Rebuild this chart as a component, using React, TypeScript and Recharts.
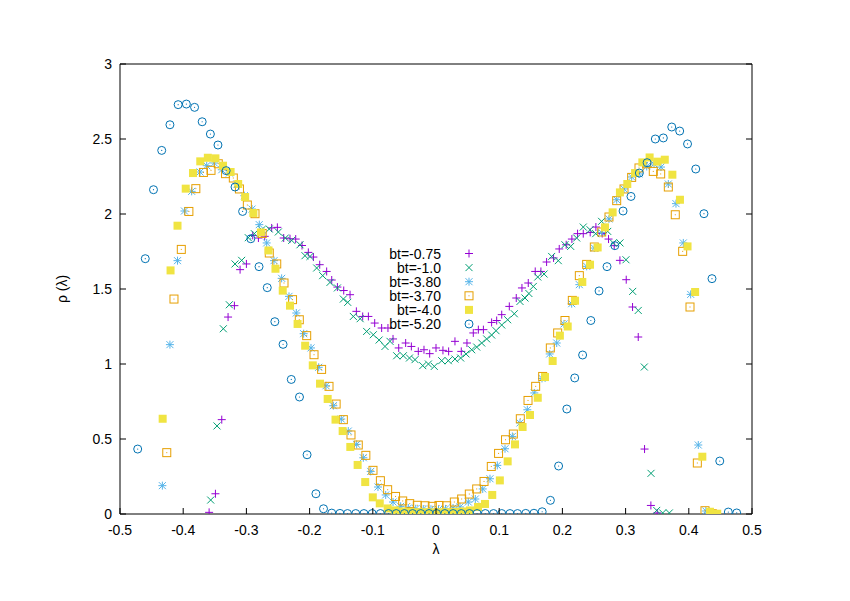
import React from "react";
import { ScatterChart, Scatter, XAxis, YAxis, Legend, Label } from "recharts";

const xTicks = [-0.5, -0.4, -0.3, -0.2, -0.1, 0, 0.1, 0.2, 0.3, 0.4, 0.5];
const yTicks = [0, 0.5, 1, 1.5, 2, 2.5, 3];

// [lambda, rho]
const bt075: [number, number][] = [
  [-0.359, 0.011], [-0.349, 0.135], [-0.339, 0.629], [-0.329, 1.313], [-0.319, 1.389], [-0.31, 1.629],
  [-0.3, 1.667], [-0.29, 1.857], [-0.281, 1.84], [-0.271, 1.851], [-0.26, 1.907], [-0.251, 1.911],
  [-0.241, 1.84], [-0.231, 1.835], [-0.222, 1.833], [-0.212, 1.79], [-0.202, 1.744], [-0.194, 1.713],
  [-0.184, 1.662], [-0.173, 1.617], [-0.165, 1.56], [-0.156, 1.513], [-0.146, 1.49], [-0.136, 1.462],
  [-0.126, 1.351], [-0.116, 1.317], [-0.107, 1.317], [-0.097, 1.273], [-0.086, 1.24], [-0.076, 1.24],
  [-0.068, 1.167], [-0.059, 1.107], [-0.048, 1.14], [-0.039, 1.117], [-0.028, 1.084], [-0.019, 1.095],
  [-0.01, 1.069], [0.0, 1.107], [0.011, 1.091], [0.02, 1.084], [0.03, 1.151], [0.04, 1.084],
  [0.049, 1.14], [0.059, 1.207], [0.067, 1.229], [0.075, 1.229], [0.088, 1.277], [0.096, 1.29],
  [0.104, 1.329], [0.116, 1.384], [0.127, 1.44], [0.136, 1.507], [0.146, 1.54], [0.157, 1.617],
  [0.166, 1.617], [0.175, 1.68], [0.186, 1.707], [0.195, 1.767], [0.206, 1.795], [0.215, 1.833],
  [0.224, 1.869], [0.233, 1.869], [0.244, 1.877], [0.253, 1.913], [0.263, 1.87], [0.273, 1.833],
  [0.282, 1.789], [0.291, 1.691], [0.301, 1.562], [0.311, 1.38], [0.32, 1.18], [0.33, 0.433],
  [0.34, 0.057], [0.35, 0.007],
];

const bt10: [number, number][] = [
  [-0.3565, 0.093], [-0.3465, 0.587], [-0.3365, 1.235], [-0.327, 1.395], [-0.318, 1.667], [-0.3075, 1.691],
  [-0.297, 1.842], [-0.2875, 1.869], [-0.2758, 1.895], [-0.2638, 1.9], [-0.2495, 1.88], [-0.2384, 1.84],
  [-0.2283, 1.824], [-0.2152, 1.795], [-0.2073, 1.722], [-0.1994, 1.717], [-0.1888, 1.64], [-0.1793, 1.589],
  [-0.1677, 1.544], [-0.156, 1.507], [-0.1466, 1.433], [-0.1397, 1.411], [-0.1308, 1.317], [-0.12, 1.302],
  [-0.1097, 1.217], [-0.0992, 1.195], [-0.09, 1.16], [-0.0807, 1.117], [-0.0728, 1.151], [-0.0622, 1.055],
  [-0.0517, 1.055], [-0.042, 1.04], [-0.0332, 1.029], [-0.021, 0.989], [-0.012, 1.0], [-0.0027, 0.984],
  [0.009, 1.022], [0.0195, 1.022], [0.03, 1.033], [0.039, 1.04], [0.0475, 1.067], [0.0565, 1.095],
  [0.0644, 1.113], [0.0723, 1.14], [0.0802, 1.167], [0.0881, 1.193], [0.095, 1.222], [0.104, 1.26],
  [0.1134, 1.295], [0.1239, 1.335], [0.1329, 1.417], [0.1408, 1.44], [0.147, 1.47], [0.154, 1.517],
  [0.161, 1.58], [0.171, 1.6], [0.183, 1.717], [0.1935, 1.689], [0.204, 1.795], [0.2131, 1.784],
  [0.2226, 1.84], [0.233, 1.913], [0.2437, 1.895], [0.2527, 1.869], [0.262, 1.951], [0.2717, 1.884],
  [0.2805, 1.807], [0.2911, 1.807], [0.3006, 1.695], [0.3112, 1.484], [0.32, 1.357], [0.3296, 0.98],
  [0.3402, 0.271], [0.3492, 0.024], [0.3587, 0.007], [0.3692, 0.007],
];

const bt380: [number, number][] = [
  [-0.433, 0.189], [-0.421, 1.129], [-0.409, 1.689], [-0.398, 2.02], [-0.3866, 2.151], [-0.3734, 2.28],
  [-0.3628, 2.322], [-0.3508, 2.34], [-0.339, 2.295], [-0.327, 2.273], [-0.315, 2.2], [-0.3033, 2.122],
  [-0.2911, 2.033], [-0.2796, 1.929], [-0.2679, 1.807], [-0.2563, 1.689], [-0.2442, 1.571], [-0.2326, 1.451],
  [-0.221, 1.34], [-0.2094, 1.202], [-0.1978, 1.107], [-0.1856, 0.978], [-0.174, 0.855], [-0.1625, 0.722],
  [-0.1499, 0.633], [-0.1388, 0.553], [-0.1255, 0.464], [-0.115, 0.375], [-0.1033, 0.284], [-0.0918, 0.18],
  [-0.0796, 0.127], [-0.068, 0.08], [-0.0559, 0.051], [-0.0438, 0.04], [-0.0321, 0.035], [-0.0201, 0.033],
  [-0.008, 0.032], [0.004, 0.03], [0.015, 0.034], [0.027, 0.04], [0.038, 0.047], [0.0511, 0.08],
  [0.0622, 0.1], [0.0739, 0.167], [0.0854, 0.235], [0.097, 0.324], [0.1092, 0.435], [0.1208, 0.517],
  [0.1329, 0.607], [0.1445, 0.695], [0.1556, 0.807], [0.1677, 0.904], [0.1799, 1.067], [0.191, 1.14],
  [0.2025, 1.267], [0.2147, 1.402], [0.2268, 1.529], [0.2384, 1.651], [0.2505, 1.773], [0.262, 1.877],
  [0.2737, 1.967], [0.2859, 2.095], [0.2975, 2.167], [0.3096, 2.247], [0.3212, 2.267], [0.3334, 2.317],
  [0.345, 2.333], [0.356, 2.313], [0.3676, 2.2], [0.3797, 2.069], [0.3913, 1.807], [0.403, 1.464],
  [0.415, 0.46], [0.427, 0.02],
];

const bt370: [number, number][] = [
  [-0.426, 0.409], [-0.4146, 1.433], [-0.403, 1.764], [-0.391, 2.017], [-0.38, 2.169], [-0.368, 2.277],
  [-0.356, 2.291], [-0.3445, 2.335], [-0.333, 2.269], [-0.3207, 2.24], [-0.311, 2.167], [-0.2985, 2.06],
  [-0.2864, 2.002], [-0.275, 1.87], [-0.2638, 1.74], [-0.252, 1.667], [-0.2405, 1.54], [-0.227, 1.429],
  [-0.2163, 1.295], [-0.2046, 1.189], [-0.193, 1.062], [-0.181, 0.964], [-0.1693, 0.851], [-0.158, 0.733],
  [-0.1466, 0.629], [-0.1345, 0.527], [-0.123, 0.46], [-0.111, 0.391], [-0.0997, 0.291], [-0.088, 0.222],
  [-0.0765, 0.162], [-0.064, 0.117], [-0.0527, 0.087], [-0.0416, 0.069], [-0.0296, 0.058], [-0.0174, 0.055],
  [-0.0058, 0.051], [0.0047, 0.057], [0.0169, 0.055], [0.029, 0.08], [0.0406, 0.1], [0.0527, 0.133],
  [0.0644, 0.167], [0.076, 0.217], [0.0875, 0.317], [0.099, 0.404], [0.11, 0.495], [0.1224, 0.533],
  [0.1334, 0.635], [0.1456, 0.757], [0.1577, 0.851], [0.1688, 0.917], [0.1809, 1.107], [0.1925, 1.207],
  [0.2041, 1.29], [0.2157, 1.424], [0.2268, 1.589], [0.2384, 1.664], [0.2505, 1.78], [0.2622, 1.88],
  [0.2737, 1.98], [0.2859, 2.089], [0.2975, 2.167], [0.3096, 2.244], [0.3212, 2.307], [0.3334, 2.335],
  [0.3438, 2.284], [0.3555, 2.267], [0.3676, 2.18], [0.3786, 1.995], [0.3903, 1.751], [0.4019, 1.38],
  [0.4135, 0.34], [0.4256, 0.022], [0.4372, 0.002],
];

const bt40: [number, number][] = [
  [-0.4325, 0.635], [-0.42, 1.624], [-0.409, 1.922], [-0.396, 2.169], [-0.3845, 2.273], [-0.373, 2.351],
  [-0.361, 2.375], [-0.349, 2.371], [-0.337, 2.322], [-0.325, 2.28], [-0.313, 2.2], [-0.302, 2.113],
  [-0.289, 2.007], [-0.277, 1.877], [-0.265, 1.757], [-0.254, 1.635], [-0.2425, 1.489], [-0.231, 1.389],
  [-0.219, 1.267], [-0.207, 1.122], [-0.195, 0.991], [-0.1835, 0.869], [-0.1714, 0.767], [-0.159, 0.629],
  [-0.1477, 0.553], [-0.1356, 0.447], [-0.124, 0.327], [-0.112, 0.213], [-0.1, 0.111], [-0.089, 0.071],
  [-0.0765, 0.037], [-0.065, 0.024], [-0.0527, 0.017], [-0.041, 0.013], [-0.029, 0.012], [-0.017, 0.012],
  [-0.005, 0.011], [0.007, 0.012], [0.019, 0.012], [0.031, 0.014], [0.042, 0.017], [0.0538, 0.024],
  [0.0665, 0.047], [0.0775, 0.067], [0.089, 0.127], [0.101, 0.224], [0.1134, 0.351], [0.125, 0.464],
  [0.137, 0.58], [0.1487, 0.66], [0.161, 0.775], [0.1725, 0.913], [0.1846, 1.02], [0.196, 1.189],
  [0.2084, 1.25], [0.22, 1.422], [0.2315, 1.547], [0.2437, 1.662], [0.2558, 1.777], [0.2674, 1.911],
  [0.2795, 2.011], [0.291, 2.144], [0.3027, 2.2], [0.315, 2.273], [0.3265, 2.344], [0.338, 2.377],
  [0.35, 2.349], [0.362, 2.362], [0.374, 2.262], [0.386, 2.095], [0.398, 1.784], [0.41, 1.48],
  [0.4214, 0.382], [0.4335, 0.015], [0.445, 0.002],
];

const bt520: [number, number][] = [
  [-0.472, 0.433], [-0.46, 1.702], [-0.447, 2.162], [-0.434, 2.424], [-0.421, 2.595], [-0.408, 2.729],
  [-0.395, 2.733], [-0.382, 2.711], [-0.37, 2.615], [-0.357, 2.533], [-0.345, 2.46], [-0.332, 2.289],
  [-0.318, 2.18], [-0.306, 2.017], [-0.293, 1.835], [-0.28, 1.649], [-0.267, 1.509], [-0.255, 1.282],
  [-0.242, 1.131], [-0.229, 0.897], [-0.216, 0.78], [-0.204, 0.395], [-0.19, 0.135], [-0.178, 0.035],
  [-0.165, 0.006], [-0.152, 0.004], [-0.14, 0.003], [-0.127, 0.003], [-0.114, 0.003], [-0.101, 0.003],
  [-0.088, 0.003], [-0.075, 0.003], [-0.063, 0.003], [-0.05, 0.003], [-0.037, 0.003], [-0.024, 0.003],
  [-0.011, 0.003], [0.001, 0.003], [0.014, 0.003], [0.027, 0.003], [0.04, 0.003], [0.053, 0.003],
  [0.065, 0.003], [0.078, 0.003], [0.091, 0.003], [0.104, 0.003], [0.117, 0.003], [0.129, 0.003],
  [0.142, 0.004], [0.155, 0.005], [0.168, 0.015], [0.181, 0.091], [0.194, 0.32], [0.207, 0.7],
  [0.2195, 0.907], [0.232, 1.06], [0.245, 1.29], [0.258, 1.487], [0.2706, 1.649], [0.283, 1.789],
  [0.296, 2.02], [0.3085, 2.117], [0.3217, 2.273], [0.334, 2.342], [0.347, 2.5], [0.3597, 2.507],
  [0.373, 2.58], [0.3856, 2.553], [0.398, 2.467], [0.411, 2.3], [0.424, 2.002], [0.4367, 1.569],
  [0.449, 0.353], [0.4625, 0.013], [0.4758, 0.007],
];

type Kind = "plus" | "cross" | "star" | "box" | "fbox" | "circle";

const series: { name: string; color: string; kind: Kind; rows: [number, number][] }[] = [
  { name: "bt=-0.75", color: "#9400d3", kind: "plus", rows: bt075 },
  { name: "bt=-1.0", color: "#009e73", kind: "cross", rows: bt10 },
  { name: "bt=-3.80", color: "#56b4e9", kind: "star", rows: bt380 },
  { name: "bt=-3.70", color: "#e69f00", kind: "box", rows: bt370 },
  { name: "bt=-4.0", color: "#f0e442", kind: "fbox", rows: bt40 },
  { name: "bt=-5.20", color: "#0072b2", kind: "circle", rows: bt520 },
];

const FONT = "'Liberation Sans', Arial, Helvetica, sans-serif";
const KEY_STEP = 14.1;

function Marker({ kind, color, cx, cy }: { kind: Kind; color: string; cx: number; cy: number }) {
  const s = 4;
  const d = 3.5;
  const plus = (
    <>
      <line x1={cx - s} x2={cx + s} y1={cy} y2={cy} />
      <line x1={cx} x2={cx} y1={cy - s} y2={cy + s} />
    </>
  );
  const cross = (
    <>
      <line x1={cx - d} x2={cx + d} y1={cy - d} y2={cy + d} />
      <line x1={cx - d} x2={cx + d} y1={cy + d} y2={cy - d} />
    </>
  );
  switch (kind) {
    case "plus":
      return <g stroke={color} strokeWidth={1}>{plus}</g>;
    case "cross":
      return <g stroke={color} strokeWidth={1}>{cross}</g>;
    case "star":
      return (
        <g stroke={color} strokeWidth={1}>
          {plus}
          {cross}
        </g>
      );
    case "box":
      return (
        <g>
          <rect x={cx - 4} y={cy - 4} width={8} height={8} fill="none" stroke={color} strokeWidth={1} />
          <rect x={cx - 0.5} y={cy - 0.5} width={1} height={1} fill={color} />
        </g>
      );
    case "fbox":
      return <rect x={cx - 4} y={cy - 4} width={8} height={8} fill={color} />;
    default:
      return (
        <g>
          <circle cx={cx} cy={cy} r={4} fill="none" stroke={color} strokeWidth={1} />
          <circle cx={cx} cy={cy} r={0.6} fill={color} />
        </g>
      );
  }
}

const BottomTick = (p: any) => (
  <g>
    <line x1={p.x} x2={p.x} y1={p.y - 8} y2={p.y - 14} stroke="#000" />
    <text x={p.x} y={p.y + 13} textAnchor="middle" fontFamily={FONT} fontSize={14} fill="#000">
      {String(p.payload.value)}
    </text>
  </g>
);

const LeftTick = (p: any) => (
  <g>
    <line x1={p.x + 8} x2={p.x + 14} y1={p.y} y2={p.y} stroke="#000" />
    <text x={p.x} y={p.y + 5} textAnchor="end" fontFamily={FONT} fontSize={14} fill="#000">
      {String(p.payload.value)}
    </text>
  </g>
);

const TopTick = (p: any) => <line x1={p.x} x2={p.x} y1={p.y} y2={p.y + 6} stroke="#000" />;
const RightTick = (p: any) => <line x1={p.x} x2={p.x - 6} y1={p.y} y2={p.y} stroke="#000" />;

// gnuplot-style key: one text block, right aligned, with the symbol to its right
const renderKey = () => (
  <svg width={120} height={92} style={{ display: "block" }}>
    <text x={71} y={14.5} textAnchor="end" fontFamily={FONT} fontSize={14} fill="#000">
      {series.map((s, i) => (
        <tspan key={s.name} x={71} dy={i === 0 ? 0 : KEY_STEP}>
          {s.name}
        </tspan>
      ))}
    </text>
    {series.map((s, i) => (
      <Marker key={s.name} kind={s.kind} color={s.color} cx={99} cy={9.5 + i * KEY_STEP} />
    ))}
  </svg>
);

export default function App() {
  return (
    <div style={{ position: "absolute", left: 0, top: 0, background: "#fff" }}>
      <ScatterChart width={850} height={601} margin={{ top: 63, right: 97, bottom: 57, left: 60 }}>
        <XAxis
          type="number"
          dataKey="x"
          domain={[-0.5, 0.5]}
          ticks={xTicks}
          allowDataOverflow
          height={30}
          tickSize={0}
          tickMargin={8}
          tickLine={false}
          axisLine={{ stroke: "#000" }}
          tick={BottomTick}
        >
          <Label
            content={(props: any) => {
              const vb = props.viewBox;
              return (
                <text x={vb.x + vb.width / 2} y={vb.y + 40} textAnchor="middle" fontFamily={FONT} fontSize={14} fill="#000">
                  λ
                </text>
              );
            }}
          />
        </XAxis>
        <XAxis
          xAxisId="top"
          orientation="top"
          type="number"
          domain={[-0.5, 0.5]}
          ticks={xTicks}
          allowDataOverflow
          height={1}
          tickSize={0}
          tickMargin={0}
          tickLine={false}
          axisLine={{ stroke: "#000" }}
          tick={TopTick}
        />
        <YAxis
          type="number"
          dataKey="y"
          domain={[0, 3]}
          ticks={yTicks}
          allowDataOverflow
          width={60}
          tickSize={0}
          tickMargin={8}
          tickLine={false}
          axisLine={{ stroke: "#000" }}
          tick={LeftTick}
        >
          <Label
            content={(props: any) => {
              const vb = props.viewBox;
              const x = vb.x + 7;
              const y = vb.y + vb.height / 2;
              return (
                <text x={x} y={y} transform={`rotate(-90 ${x} ${y})`} textAnchor="middle" fontFamily={FONT} fontSize={14} fill="#000">
                  ρ (λ)
                </text>
              );
            }}
          />
        </YAxis>
        <YAxis
          yAxisId="right"
          orientation="right"
          type="number"
          domain={[0, 3]}
          ticks={yTicks}
          allowDataOverflow
          width={1}
          tickSize={0}
          tickMargin={0}
          tickLine={false}
          axisLine={{ stroke: "#000" }}
          tick={RightTick}
        />
        {series.map((s) => (
          <Scatter
            key={s.name}
            name={s.name}
            data={s.rows.map(([x, y]) => ({ x, y }))}
            isAnimationActive={false}
            shape={(p: any) => <Marker kind={s.kind} color={s.color} cx={p.cx} cy={p.cy} />}
          />
        ))}
        <Legend
          layout="horizontal"
          verticalAlign="middle"
          align="center"
          content={renderKey}
          wrapperStyle={{ position: "absolute", left: 370, top: 244, width: 120, height: 92 }}
        />
      </ScatterChart>
    </div>
  );
}
